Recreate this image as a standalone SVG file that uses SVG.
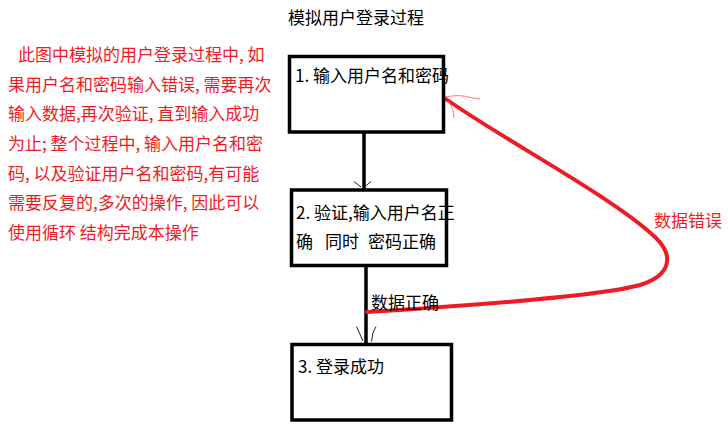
<svg xmlns="http://www.w3.org/2000/svg" width="728" height="433" viewBox="0 0 728 433">
<style>
text{font-family:"Microsoft YaHei","Noto Sans CJK SC","Noto Sans",sans-serif;font-size:17px;white-space:pre}
.box{fill:#fff;stroke:#000;stroke-width:3.5}
.blk{fill:#000}
.red{fill:#ed1c24}
.conn{fill:none;stroke:#000;stroke-width:3.5}
.tip{fill:none;stroke:#222;stroke-width:1}
.redline{fill:none;stroke:#ed1c24;stroke-width:4;stroke-linecap:round}
.redtip{fill:none;stroke:#f57a7f;stroke-width:1}
</style>
<rect width="728" height="433" fill="#fff"/>
<text class="blk" x="288" y="24">模拟用户登录过程</text>
<g id="note">
<text class="red" x="18" y="61">此图中模拟的用户登录过程中, 如</text>
<text class="red" x="8" y="91">果用户名和密码输入错误, 需要再次</text>
<text class="red" x="8" y="120">输入数据,再次验证, 直到输入成功</text>
<text class="red" x="8" y="150">为止; 整个过程中, 输入用户名和密</text>
<text class="red" x="8" y="180">码, 以及验证用户名和密码,有可能</text>
<text class="red" x="8" y="209">需要反复的,多次的操作, 因此可以</text>
<text class="red" x="8" y="239">使用循环 结构完成本操作</text>
</g>
<g id="connectors">
<line class="conn" x1="364" y1="133" x2="364" y2="189"/>
<path class="tip" d="M354,181.5 L361,187 M371,181.5 L364.5,187"/>
<line class="conn" x1="366" y1="267" x2="366" y2="343"/>
<path class="tip" d="M356.5,326.5 L363,341 M376,326.5 Q372,332 371.5,341.5"/>
<path class="redline" d="M367,312 C 480,305 600,296 640,285 C 672,275 674,255 655,237 C 610,195 500,138 443,97"/>
<path class="redtip" d="M445,97 Q460,94 470,97.5 L480,99 M448,101.5 Q454,108 454,118"/>
<text class="blk" x="371" y="309">数据正确</text>
<text class="red" x="654" y="227">数据错误</text>
</g>
<g id="step1">
<rect class="box" x="289.5" y="56.5" width="154" height="75.5"/>
<text class="blk" x="295" y="82">1. 输入用户名和密码</text>
</g>
<g id="step2">
<rect class="box" x="291.5" y="190" width="155" height="75.5"/>
<text class="blk" x="296" y="219">2. 验证,输入用户名正</text>
<text class="blk" y="248"><tspan x="296">确</tspan><tspan x="325">同时</tspan><tspan x="368">密码正确</tspan></text>
</g>
<g id="step3">
<rect class="box" x="292" y="344.5" width="159.5" height="75.5"/>
<text class="blk" x="298" y="373">3. 登录成功</text>
</g>
</svg>
